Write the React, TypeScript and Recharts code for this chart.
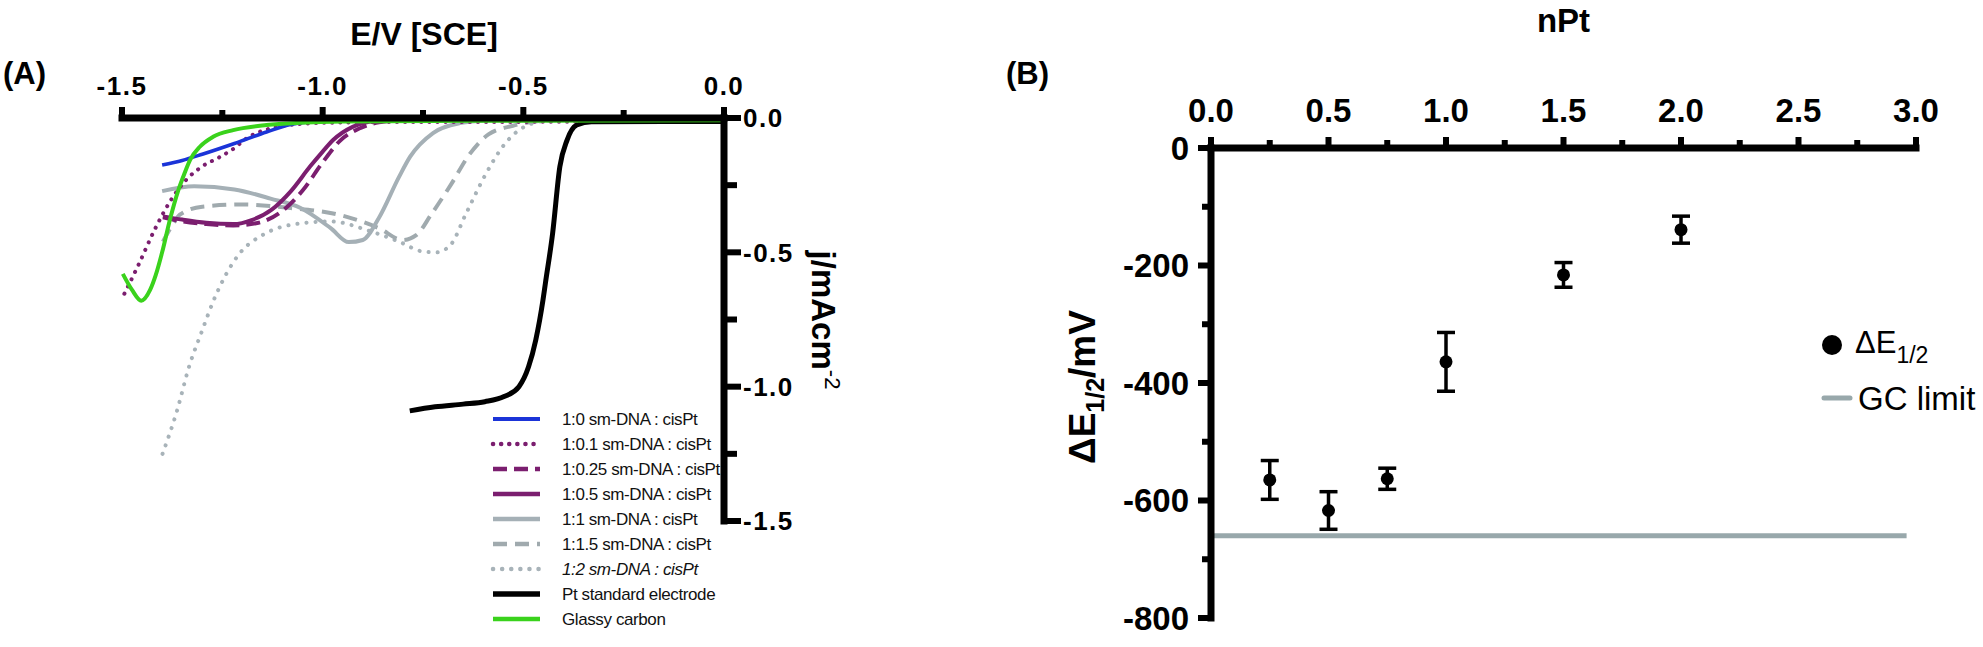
import React from 'react';
import {
  LineChart,
  Line,
  XAxis,
  YAxis,
  Legend,
  ScatterChart,
  Scatter,
  ErrorBar,
  ReferenceLine,
} from 'recharts';

const FONT = '"Liberation Sans", Arial, Helvetica, sans-serif';

// ---- panel A: polarisation curves, [E / V vs SCE, j / mA cm-2] ----
const ratio_1_0 = [
  [-1.4, -0.175], [-1.35, -0.158], [-1.3, -0.135], [-1.22, -0.095], [-1.14, -0.052],
  [-1.08, -0.024], [-1.0, -0.012], [-0.9, -0.008], [-0.5, -0.006], [0, -0.005],
];
const ratio_1_01 = [
  [-1.494, -0.654], [-1.46, -0.55], [-1.42, -0.42], [-1.38, -0.31], [-1.34, -0.23],
  [-1.3, -0.18], [-1.256, -0.145], [-1.22, -0.112], [-1.19, -0.076], [-1.156, -0.051],
  [-1.1, -0.03], [-1.0, -0.018], [-0.8, -0.015], [0, -0.014],
];
const ratio_1_025 = [
  [-1.398, -0.37], [-1.35, -0.385], [-1.29, -0.395], [-1.223, -0.4], [-1.16, -0.39],
  [-1.1, -0.345], [-1.05, -0.27], [-1.0, -0.165], [-0.957, -0.085], [-0.907, -0.038],
  [-0.86, -0.016], [-0.8, -0.008], [-0.7, -0.005], [0, -0.005],
];
const ratio_1_05 = [
  [-1.398, -0.366], [-1.35, -0.378], [-1.29, -0.39], [-1.223, -0.395], [-1.175, -0.379],
  [-1.127, -0.341], [-1.079, -0.272], [-1.031, -0.18], [-1.0, -0.125], [-0.974, -0.082],
  [-0.924, -0.032], [-0.87, -0.012], [-0.75, -0.006], [0, -0.005],
];
const ratio_1_1 = [
  [-1.4, -0.272], [-1.32, -0.254], [-1.22, -0.266], [-1.13, -0.3], [-1.055, -0.335],
  [-0.98, -0.41], [-0.935, -0.462], [-0.9, -0.454], [-0.86, -0.372], [-0.81, -0.22],
  [-0.782, -0.144], [-0.725, -0.056], [-0.658, -0.019], [-0.6, -0.01], [0, -0.006],
];
const ratio_1_15 = [
  [-1.398, -0.46], [-1.375, -0.4], [-1.356, -0.36], [-1.3, -0.33], [-1.2, -0.322],
  [-1.08, -0.335], [-0.96, -0.36], [-0.86, -0.41], [-0.8, -0.454], [-0.766, -0.435],
  [-0.73, -0.36], [-0.68, -0.247], [-0.634, -0.135], [-0.586, -0.06], [-0.526, -0.029],
  [-0.466, -0.012], [-0.405, -0.007], [0, -0.005],
];
const ratio_1_2 = [
  [-1.399, -1.25], [-1.363, -1.09], [-1.333, -0.926], [-1.3, -0.79], [-1.272, -0.68],
  [-1.21, -0.51], [-1.148, -0.434], [-1.076, -0.397], [-0.98, -0.385], [-0.884, -0.42],
  [-0.81, -0.46], [-0.75, -0.497], [-0.716, -0.5], [-0.68, -0.47], [-0.644, -0.36],
  [-0.594, -0.21], [-0.547, -0.098], [-0.5, -0.035], [-0.438, -0.01], [0, -0.006],
];
const ptElectrode = [
  [-0.783, -1.09], [-0.72, -1.075], [-0.65, -1.065], [-0.596, -1.056], [-0.548, -1.037],
  [-0.511, -1.0], [-0.487, -0.926], [-0.469, -0.826], [-0.451, -0.677], [-0.445, -0.615],
  [-0.427, -0.429], [-0.409, -0.181], [-0.391, -0.082], [-0.367, -0.026], [-0.33, -0.014],
  [0, -0.013],
];
const glassyCarbon = [
  [-1.498, -0.58], [-1.475, -0.64], [-1.452, -0.68], [-1.43, -0.64], [-1.416, -0.585],
  [-1.4, -0.5], [-1.38, -0.375], [-1.36, -0.27], [-1.344, -0.205], [-1.33, -0.155],
  [-1.306, -0.107], [-1.273, -0.07], [-1.223, -0.045], [-1.14, -0.026], [-1.056, -0.0175],
  [-0.95, -0.013], [-0.5, -0.01], [0, -0.008],
];
const E_TICKS = [-1.5, -1.25, -1, -0.75, -0.5, -0.25, 0];
const J_TICKS = [-1.5, -1.25, -1, -0.75, -0.5, -0.25, 0];

// ---- panel B: half-wave potential shift vs nPt ----
const N_PT = [0.25, 0.5, 0.75, 1, 1.5, 2];
const DELTA_E = [-565, -617, -563, -364, -216, -139];
const DELTA_E_ERR = [33, 32, 18, 50, 21, 23];
const GC_LIMIT = -660;
const GC_LIMIT_END = 2.96;
const NPT_TICKS = [0, 0.25, 0.5, 0.75, 1, 1.25, 1.5, 1.75, 2, 2.25, 2.5, 2.75, 3];
const DE_TICKS = [-800, -700, -600, -500, -400, -300, -200, -100, 0];

const toPts = (rows: number[][]) => rows.map(([e, j]) => ({ e, j }));

const PURPLE = '#7b1e6f';
const curves = [
  { name: '1:0 sm-DNA : cisPt', rows: ratio_1_0, color: '#1b34d8', w: 3.5 },
  { name: '1:0.1 sm-DNA : cisPt', rows: ratio_1_01, color: PURPLE, w: 4, dash: '0.1 8', cap: 'round' },
  { name: '1:0.25 sm-DNA : cisPt', rows: ratio_1_025, color: PURPLE, w: 4, dash: '14 7' },
  { name: '1:0.5 sm-DNA : cisPt', rows: ratio_1_05, color: PURPLE, w: 4 },
  { name: '1:1 sm-DNA : cisPt', rows: ratio_1_1, color: '#a5b0b6', w: 4 },
  { name: '1:1.5 sm-DNA : cisPt', rows: ratio_1_15, color: '#a0aaae', w: 4, dash: '14 8' },
  { name: '1:2 sm-DNA : cisPt', rows: ratio_1_2, color: '#a8b3b9', w: 4, dash: '0.1 9', cap: 'round', italic: true },
  { name: 'Pt standard electrode', rows: ptElectrode, color: '#000', w: 5 },
  { name: 'Glassy carbon', rows: glassyCarbon, color: '#3ad21c', w: 4 },
];
const drawOrder = [6, 5, 4, 1, 2, 3, 0, 7, 8];

const pointsB = N_PT.map((n, i) => ({ n, dE: DELTA_E[i], err: DELTA_E_ERR[i] }));

const onStep = (v: number, step: number) => Math.abs(v / step - Math.round(v / step)) < 1e-6;
const axisLine = { stroke: '#000', strokeWidth: 7, strokeLinecap: 'square' as const };

type TickCfg = {
  step: number;
  majorLen: number;
  minorLen: number;
  gap: number;
  size: number;
  spacing: number;
  fmt: (v: number) => string;
};

const labelStyle = (c: TickCfg) => ({
  fontFamily: FONT,
  fontWeight: 'bold' as const,
  fontSize: c.size,
  letterSpacing: c.spacing,
  fill: '#000',
});

const topTick = (c: TickCfg) => (p: any) => {
  const v = Number(p.payload.value);
  const major = onStep(v, c.step);
  return (
    <g>
      <line x1={p.x} x2={p.x} y1={p.y} y2={p.y - (major ? c.majorLen : c.minorLen)} stroke="#000" strokeWidth={6} />
      {major && (
        <text x={p.x} y={p.y - c.gap} textAnchor="middle" {...labelStyle(c)}>
          {c.fmt(v)}
        </text>
      )}
    </g>
  );
};

const sideTick = (c: TickCfg, dir: 1 | -1) => (p: any) => {
  const v = Number(p.payload.value);
  const major = onStep(v, c.step);
  return (
    <g>
      <line x1={p.x} x2={p.x + dir * (major ? c.majorLen : c.minorLen)} y1={p.y} y2={p.y} stroke="#000" strokeWidth={6} />
      {major && (
        <text x={p.x + dir * c.gap} y={p.y} dy="0.36em" textAnchor={dir > 0 ? 'start' : 'end'} {...labelStyle(c)}>
          {c.fmt(v)}
        </text>
      )}
    </g>
  );
};

const legendA = () => (
  <svg width={260} height={230}>
    {curves.map((c, i) => {
      const y = 19 + i * 25;
      return (
        <g key={c.name}>
          <line x1={13} x2={60} y1={y} y2={y} stroke={c.color} strokeWidth={c.w + 0.5}
            strokeDasharray={c.dash} strokeLinecap={(c.cap as any) || 'butt'} />
          <text x={82} y={y} dy="0.36em" fontFamily={FONT} fontSize={17} letterSpacing={-0.4} fill="#111"
            fontStyle={c.italic ? 'italic' : 'normal'}>
            {c.name}
          </text>
        </g>
      );
    })}
  </svg>
);

const legendB = () => (
  <svg width={168} height={100} style={{ overflow: 'visible' }}>
    <circle cx={17} cy={20} r={10} fill="#000" />
    <text x={40} y={28} fontFamily={FONT} fontSize={31} fill="#000">
      ΔE<tspan dy={10} fontSize={23}>1/2</tspan>
    </text>
    <line x1={9} x2={35} y1={73} y2={73} stroke="#98a8ab" strokeWidth={5} strokeLinecap="round" />
    <text x={43} y={73} dy="0.36em" fontFamily={FONT} fontSize={33} fill="#000">GC limit</text>
  </svg>
);

export default function App() {
  return (
    <div style={{ position: 'absolute', left: 0, top: 0, width: 1983, height: 647, background: '#fff' }}>
      <div style={{ position: 'absolute', left: 0, top: 0 }}>
        <LineChart width={900} height={647} margin={{ top: 58, right: 116, bottom: 126, left: 122 }}>
          <XAxis
            type="number"
            dataKey="e"
            orientation="top"
            domain={[-1.5, 0]}
            ticks={E_TICKS}
            interval={0}
            height={60}
            tickSize={0}
            tickMargin={0}
            tickLine={false}
            axisLine={axisLine}
            tick={topTick({ step: 0.5, majorLen: 11, minorLen: 8, gap: 23, size: 26, spacing: 1.5, fmt: (v) => v.toFixed(1) })}
            label={(p: any) => (
              <text x={p.viewBox.x + p.viewBox.width / 2 + 1} y={p.viewBox.y - 13} textAnchor="middle"
                fontFamily={FONT} fontWeight="bold" fontSize={32} fill="#000">
                E/V [SCE]
              </text>
            )}
          />
          <YAxis
            type="number"
            orientation="right"
            domain={[-1.5, 0]}
            ticks={J_TICKS}
            interval={0}
            width={60}
            tickSize={0}
            tickMargin={0}
            tickLine={false}
            axisLine={axisLine}
            tick={sideTick({ step: 0.5, majorLen: 17, minorLen: 13, gap: 19, size: 26, spacing: 1.5, fmt: (v) => v.toFixed(1) }, 1)}
            label={(p: any) => {
              const x = p.viewBox.x + 88;
              const y = p.viewBox.y + 202;
              return (
                <text x={x} y={y} transform={`rotate(90 ${x} ${y})`} textAnchor="middle"
                  fontFamily={FONT} fontWeight="bold" fontSize={33} fill="#000">
                  j/mAcm<tspan dy={-13} fontSize={22} fontWeight="normal">-2</tspan>
                </text>
              );
            }}
          />
          {drawOrder.map((k) => {
            const c = curves[k];
            return (
              <Line
                key={c.name}
                data={toPts(c.rows)}
                dataKey="j"
                name={c.name}
                type="monotone"
                stroke={c.color}
                strokeWidth={c.w}
                strokeDasharray={c.dash}
                strokeLinecap={(c.cap as any) || 'butt'}
                dot={false}
                activeDot={false}
                isAnimationActive={false}
              />
            );
          })}
          <Legend
            layout="vertical"
            align="center"
            verticalAlign="middle"
            content={legendA}
            wrapperStyle={{ left: 480, top: 400, width: 260, height: 230 }}
          />
        </LineChart>
      </div>

      <div style={{ position: 'absolute', left: 1000, top: 0 }}>
        <ScatterChart width={983} height={647} margin={{ top: 88, right: 67, bottom: 29, left: 131 }}>
          <XAxis
            type="number"
            dataKey="n"
            orientation="top"
            domain={[0, 3]}
            ticks={NPT_TICKS}
            interval={0}
            height={60}
            tickSize={0}
            tickMargin={0}
            tickLine={false}
            axisLine={axisLine}
            tick={topTick({ step: 0.5, majorLen: 11, minorLen: 8, gap: 26, size: 33, spacing: 0, fmt: (v) => v.toFixed(1) })}
            label={(p: any) => (
              <text x={p.viewBox.x + p.viewBox.width / 2} y={p.viewBox.y - 56} textAnchor="middle"
                fontFamily={FONT} fontWeight="bold" fontSize={33} fill="#000">
                nPt
              </text>
            )}
          />
          <YAxis
            type="number"
            dataKey="dE"
            domain={[-800, 0]}
            ticks={DE_TICKS}
            interval={0}
            width={80}
            tickSize={0}
            tickMargin={0}
            tickLine={false}
            axisLine={axisLine}
            tick={sideTick({ step: 200, majorLen: 13, minorLen: 9, gap: 22, size: 33, spacing: 0, fmt: (v) => String(v) }, -1)}
            label={(p: any) => {
              const x = p.viewBox.x - 36;
              const y = p.viewBox.y + 239;
              return (
                <text x={x} y={y} transform={`rotate(-90 ${x} ${y})`} textAnchor="middle"
                  fontFamily={FONT} fontWeight="bold" fontSize={37} fill="#000">
                  ΔE<tspan dy={9} fontSize={25}>1/2</tspan><tspan dy={-9}>/mV</tspan>
                </text>
              );
            }}
          />
          <ReferenceLine
            segment={[{ x: 0, y: GC_LIMIT }, { x: GC_LIMIT_END, y: GC_LIMIT }]}
            stroke="#98a8ab"
            strokeWidth={5}
          />
          <Scatter
            data={pointsB}
            dataKey="dE"
            name="ΔE1/2"
            fill="#000"
            isAnimationActive={false}
            shape={(p: any) => <circle cx={p.cx} cy={p.cy} r={6.5} fill="#000" />}
          >
            <ErrorBar dataKey="err" direction="y" width={9} stroke="#000" strokeWidth={3.5} isAnimationActive={false} />
          </Scatter>
          <Legend
            layout="vertical"
            align="center"
            verticalAlign="middle"
            content={legendB}
            wrapperStyle={{ left: 815, top: 325, width: 168, height: 100 }}
          />
        </ScatterChart>
      </div>

      <svg width={1983} height={647} style={{ position: 'absolute', left: 0, top: 0, pointerEvents: 'none' }}>
        <text x={3} y={84} fontFamily={FONT} fontWeight="bold" fontSize={31} fill="#000">(A)</text>
        <text x={1006} y={84} fontFamily={FONT} fontWeight="bold" fontSize={31} fill="#000">(B)</text>
      </svg>
    </div>
  );
}
